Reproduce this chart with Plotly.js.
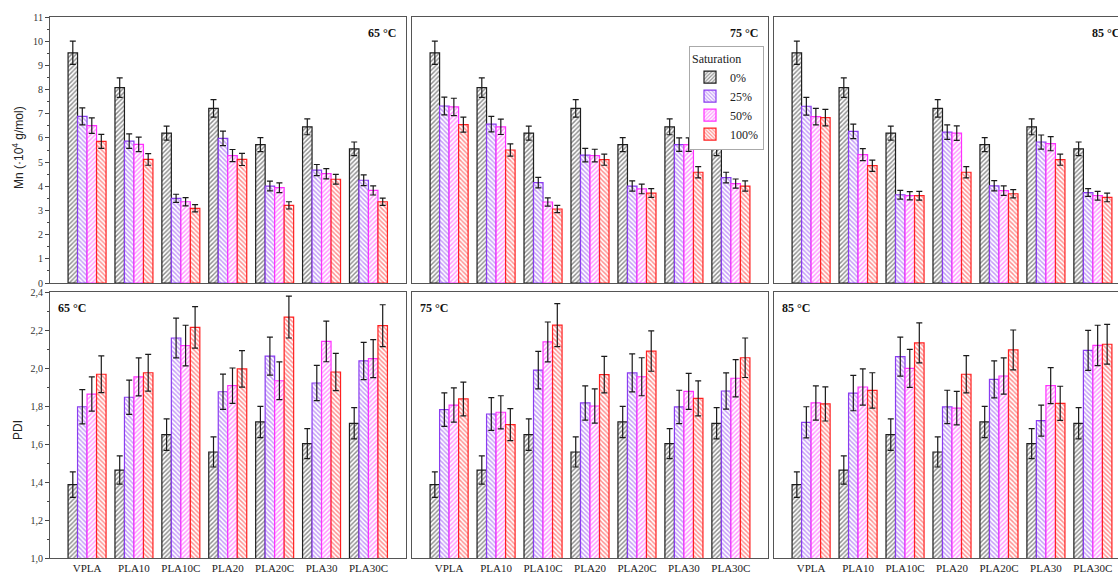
<!DOCTYPE html>
<html><head><meta charset="utf-8">
<script src="https://cdn.plot.ly/plotly-3.0.1.min.js"></script>
<style>html,body{margin:0;padding:0;overflow:hidden;background:#fff}#chart{width:1132px;height:572px}</style>
</head><body><div id="chart"></div><script>
const categories = ['VPLA','PLA10','PLA10C','PLA20','PLA20C','PLA30','PLA30C'];
const saturations = ['0%','25%','50%','100%'];
const temps = ['65 °C','75 °C','85 °C'];

// Mn (x10^4 g/mol)
const mn0      = [9.52,8.08,6.20,7.22,5.72,6.46,5.55];
const mn0Err   = [0.48,0.40,0.29,0.36,0.29,0.33,0.28];
const mn65_25  = [6.89,5.87,3.50,5.98,4.01,4.67,4.25];
const mn65_25e = [0.35,0.30,0.17,0.30,0.20,0.23,0.22];
const mn65_50  = [6.51,5.73,3.36,5.27,3.94,4.52,3.83];
const mn65_50e = [0.32,0.30,0.17,0.25,0.20,0.21,0.19];
const mn65_100 = [5.86,5.11,3.09,5.11,3.21,4.29,3.36];
const mn65_100e= [0.29,0.24,0.15,0.25,0.15,0.20,0.15];
const mn75_25  = [7.32,6.57,4.15,5.29,4.01,5.72,4.36];
const mn75_25e = [0.37,0.32,0.22,0.28,0.21,0.28,0.22];
const mn75_50  = [7.28,6.46,3.35,5.27,3.89,5.72,4.11];
const mn75_50e = [0.36,0.32,0.17,0.26,0.20,0.28,0.19];
const mn75_100 = [6.55,5.50,3.06,5.10,3.72,4.58,4.01];
const mn75_100e= [0.31,0.25,0.15,0.23,0.18,0.23,0.21];
const mn85_25  = [7.31,6.27,3.65,6.24,4.02,5.83,3.74];
const mn85_25e = [0.37,0.30,0.18,0.30,0.21,0.29,0.16];
const mn85_50  = [6.88,5.31,3.61,6.20,3.82,5.76,3.61];
const mn85_50e = [0.34,0.25,0.17,0.30,0.20,0.29,0.18];
const mn85_100 = [6.84,4.85,3.61,4.58,3.69,5.10,3.54];
const mn85_100e= [0.34,0.23,0.18,0.23,0.17,0.23,0.18];

// PDI
const pdi0      = [1.386,1.463,1.649,1.558,1.716,1.602,1.709];
const pdi0Err   = [0.067,0.074,0.083,0.079,0.082,0.079,0.082];
const pdi65_25  = [1.796,1.846,2.158,1.875,2.063,1.921,2.037];
const pdi65_25e = [0.090,0.090,0.105,0.093,0.100,0.093,0.098];
const pdi65_50  = [1.863,1.953,2.118,1.907,1.933,2.140,2.049];
const pdi65_50e = [0.090,0.100,0.107,0.093,0.099,0.107,0.100];
const pdi65_100 = [1.967,1.975,2.214,1.995,2.268,1.979,2.223];
const pdi65_100e= [0.097,0.097,0.109,0.096,0.110,0.098,0.110];
const pdi75_25  = [1.781,1.758,1.989,1.816,1.974,1.795,1.879];
const pdi75_25e = [0.088,0.086,0.099,0.090,0.100,0.088,0.095];
const pdi75_50  = [1.805,1.767,2.137,1.800,1.954,1.877,1.946];
const pdi75_50e = [0.090,0.087,0.105,0.090,0.100,0.095,0.098];
const pdi75_100 = [1.837,1.702,2.226,1.965,2.089,1.840,2.054];
const pdi75_100e= [0.089,0.084,0.113,0.096,0.106,0.092,0.104];
const pdi85_25  = [1.714,1.868,2.060,1.795,1.940,1.723,2.093];
const pdi85_25e = [0.082,0.093,0.103,0.088,0.097,0.082,0.105];
const pdi85_50  = [1.816,1.900,1.998,1.789,1.958,1.907,2.119];
const pdi85_50e = [0.090,0.095,0.100,0.088,0.095,0.095,0.106];
const pdi85_100 = [1.811,1.882,2.132,1.967,2.095,1.814,2.125];
const pdi85_100e= [0.090,0.093,0.105,0.098,0.105,0.090,0.105];

const panels = [
  [[mn0,mn0Err],[mn65_25,mn65_25e],[mn65_50,mn65_50e],[mn65_100,mn65_100e]],
  [[mn0,mn0Err],[mn75_25,mn75_25e],[mn75_50,mn75_50e],[mn75_100,mn75_100e]],
  [[mn0,mn0Err],[mn85_25,mn85_25e],[mn85_50,mn85_50e],[mn85_100,mn85_100e]],
  [[pdi0,pdi0Err],[pdi65_25,pdi65_25e],[pdi65_50,pdi65_50e],[pdi65_100,pdi65_100e]],
  [[pdi0,pdi0Err],[pdi75_25,pdi75_25e],[pdi75_50,pdi75_50e],[pdi75_100,pdi75_100e]],
  [[pdi0,pdi0Err],[pdi85_25,pdi85_25e],[pdi85_50,pdi85_50e],[pdi85_100,pdi85_100e]]
];

const colors = ['#1e1e1e','#8a3cf0','#ff30ff','#ff2020'];
const shapes = ['/','\\','/','\\'];
const W = 1132, H = 572;
const xPx = [[50,405.5],[412,768],[774,1130]];
const yPx = [[17,283],[292,558]];
const serif = 'Liberation Serif, Times New Roman, serif';

const traces = [];
const layout = {
  width: W, height: H,
  margin: {l:0,r:0,t:0,b:0},
  paper_bgcolor:'#fff', plot_bgcolor:'#fff',
  separators: ', ',
  barmode:'group', bargap:0.19, bargroupgap:0,
  showlegend:true,
  font:{family:serif, color:'#222', size:11},
  legend:{
    x:764/W, xanchor:'right', y:1-46/H, yanchor:'top',
    bgcolor:'#fff', bordercolor:'#aaa', borderwidth:1,
    font:{family:serif,size:12,color:'#222'},
    title:{text:'Saturation', side:'top', font:{family:serif,size:12,color:'#222'}},
    tracegroupgap:0, itemwidth:30
  },
  annotations:[]
};

panels.forEach((series,p)=>{
  const row = p<3?0:1, col = p%3;
  const id = p===0?'':String(p+1);
  series.forEach((s,i)=>{
    traces.push({
      type:'bar', x:categories, y:s[0], name:saturations[i],
      xaxis:'x'+id, yaxis:'y'+id,
      showlegend: p===0, legendgroup:saturations[i],
      marker:{color:'#fff', line:{color:colors[i],width:1.2},
        pattern:{shape:shapes[i], fgcolor:colors[i], bgcolor:'#fff', size:3.2, solidity:0.45, fillmode:'overlay'}},
      error_y:{type:'data', array:s[1], visible:true, color:'#1a1a1a', thickness:1.2, width:3},
      hoverinfo:'skip'
    });
  });
  const xd=[xPx[col][0]/W, xPx[col][1]/W];
  const yd=[1-yPx[row][1]/H, 1-yPx[row][0]/H];
  layout['xaxis'+id]={
    domain:xd, anchor:'y'+id, type:'category', range:[-0.79,6.79],
    showline:true, mirror:true, linecolor:'#555', linewidth:1,
    ticks:'', showticklabels: row===1, showgrid:false, zeroline:false,
    tickfont:{family:serif,size:11,color:'#222'}, automargin:false, fixedrange:true
  };
  const ya = {
    domain:yd, anchor:'x'+id,
    showline:true, mirror:true, linecolor:'#555', linewidth:1,
    showgrid:false, zeroline:false, automargin:false, fixedrange:true,
    showticklabels: col===0, ticks: col===0?'outside':'', ticklen:4, tickcolor:'#444',
    tickfont:{family:serif,size:10,color:'#333'}
  };
  if(row===0){ ya.range=[0,11]; ya.dtick=1; ya.tick0=0; }
  else { ya.range=[1.0,2.4]; ya.dtick=0.2; ya.tick0=1.0; ya.tickformat='.1f'; }
  if(col===0){ ya.minor={ticks:'outside', ticklen:2, tickcolor:'#444', dtick: row===0?0.5:0.1}; }
  layout['yaxis'+id]=ya;

  layout.annotations.push({
    xref:'x'+id+' domain', yref:'y'+id+' domain',
    x: row===0?1:0, xanchor: row===0?'right':'left',
    xshift: row===0?-8:6,
    y:1, yanchor:'top', yshift:-7,
    text:'<b>'+temps[col]+'</b>', showarrow:false,
    font:{family:serif,size:12,color:'#111'}
  });
});

layout.annotations.push({
  xref:'paper', yref:'paper', x:18/W, y:1-148/H, xanchor:'center', yanchor:'middle',
  textangle:-90, showarrow:false,
  text:'Mn (·10<sup>4</sup> g/mol)', font:{family:'Liberation Sans, Arial, sans-serif',size:12,color:'#222'}
});
layout.annotations.push({
  xref:'paper', yref:'paper', x:18/W, y:1-430/H, xanchor:'center', yanchor:'middle',
  textangle:-90, showarrow:false,
  text:'PDI', font:{family:'Liberation Sans, Arial, sans-serif',size:12,color:'#222'}
});

Plotly.newPlot('chart', traces, layout, {staticPlot:true, displayModeBar:false});
</script></body></html>
